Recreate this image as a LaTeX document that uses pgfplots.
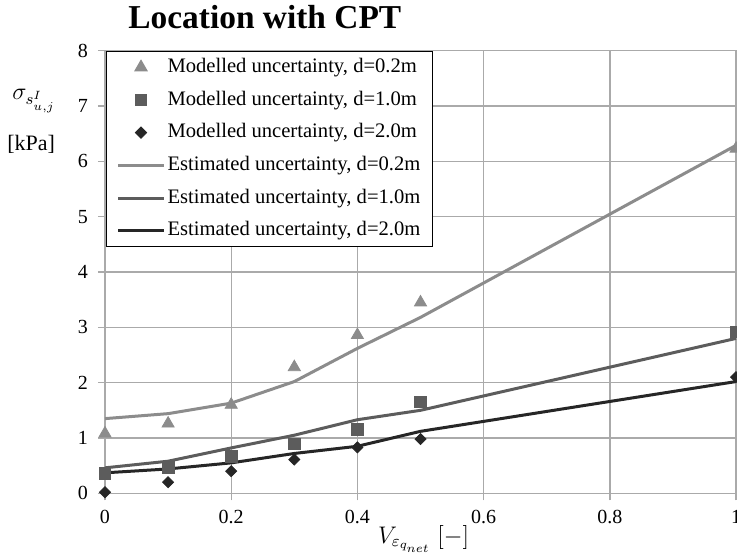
\documentclass[border=0pt]{standalone}
\usepackage{fontspec}
\setmainfont{Liberation Serif}
\usepackage{pgfplots}
\pgfplotsset{compat=1.18}
\usetikzlibrary{calc}
\definecolor{gridc}{RGB}{170,170,170}
\definecolor{cA}{RGB}{140,140,140}
\definecolor{cB}{RGB}{92,92,92}
\definecolor{cC}{RGB}{38,38,38}
\begin{document}
\begin{tikzpicture}
\begin{axis}[
 name=ax, at={(0,0)}, anchor=south west,
 scale only axis, width=315.5pt, height=221.25pt,
 xmin=0, xmax=1, ymin=0, ymax=8,
 xtick={0,0.2,0.4,0.6,0.8,1}, ytick={0,1,2,3,4,5,6,7,8},
 grid=major, grid style={gridc, line width=0.7pt},
 axis line style={gridc, line width=0.7pt},
 tick pos=left, tick align=outside, major tick length=3.5pt,
 tick style={gridc, line width=0.7pt},
 /pgf/number format/assume math mode=true,
 tick label style={font=\fontsize{10}{12}\selectfont},
 yticklabel style={xshift=-1.5pt},
 xticklabel style={yshift=-1.5pt},
 xlabel={$V_{\varepsilon_{q_{net}}}$ $[-]$},
 xlabel style={at={(axis description cs:0.505,0)}, anchor=base, yshift=-25pt, font=\fontsize{11.5}{13}\selectfont},
 legend style={at={(axis description cs:0.0016,1)}, anchor=north west, draw=black, line width=0.5pt, inner xsep=5pt, inner ysep=3pt, font=\fontsize{10.3}{12}\selectfont, row sep=6.35pt, nodes={inner ysep=0pt, inner xsep=1pt, text height=7.5pt, text depth=2.5pt}, cells={anchor=west}},
 legend image code/.code={\draw[mark repeat=2,mark phase=2,#1] plot coordinates {(0pt,0pt) (11.5pt,0pt) (23pt,0pt)};},
 clip=false,
]
\addplot[only marks, mark=triangle*, mark size=3.5pt, color=cA] coordinates {(0,1.08)(0.1,1.26)(0.2,1.6)(0.3,2.28)(0.4,2.86)(0.5,3.45)(1,6.23)};
\addlegendentry{Modelled uncertainty, d=0.2m}
\addplot[only marks, mark=square*, mark size=2.9pt, color=cB] coordinates {(0,0.36)(0.1,0.47)(0.2,0.67)(0.3,0.89)(0.4,1.16)(0.5,1.65)(1,2.92)};
\addlegendentry{Modelled uncertainty, d=1.0m}
\addplot[only marks, mark=square*, mark size=1.95pt, mark options={rotate=45}, color=cC] coordinates {(0,0.02)(0.1,0.2)(0.2,0.4)(0.3,0.61)(0.4,0.83)(0.5,0.98)(1,2.1)};
\addlegendentry{Modelled uncertainty, d=2.0m}
\addplot[no marks, cA, line width=1.5pt] coordinates {(0,1.35)(0.1,1.44)(0.2,1.63)(0.3,2.02)(0.4,2.62)(0.5,3.18)(1,6.29)};
\addlegendentry{Estimated uncertainty, d=0.2m}
\addplot[no marks, cB, line width=1.5pt] coordinates {(0,0.46)(0.1,0.58)(0.2,0.82)(0.3,1.05)(0.4,1.33)(0.5,1.5)(1,2.8)};
\addlegendentry{Estimated uncertainty, d=1.0m}
\addplot[no marks, cC, line width=1.5pt] coordinates {(0,0.37)(0.1,0.44)(0.2,0.55)(0.3,0.72)(0.4,0.85)(0.5,1.12)(1,2.02)};
\addlegendentry{Estimated uncertainty, d=2.0m}
\node[anchor=west, inner sep=0pt, font=\fontsize{16.7}{19}\selectfont\bfseries] at (axis description cs:0.0365,1.077) {Location with CPT};
\node[inner sep=0pt, font=\fontsize{12}{14}\selectfont] at (axis description cs:-0.1125,0.887) {$\sigma_{s^{I}_{u,j}}$};
\node[inner sep=0pt, font=\fontsize{11}{13}\selectfont] at (axis description cs:-0.117,0.789) {[kPa]};
\end{axis}
\pgfresetboundingbox
\useasboundingbox ($(ax.south west)+(-52.5pt,-32.35pt)$) rectangle ($(ax.north east)+(0.5pt,25.4pt)$);
\end{tikzpicture}
\end{document}
